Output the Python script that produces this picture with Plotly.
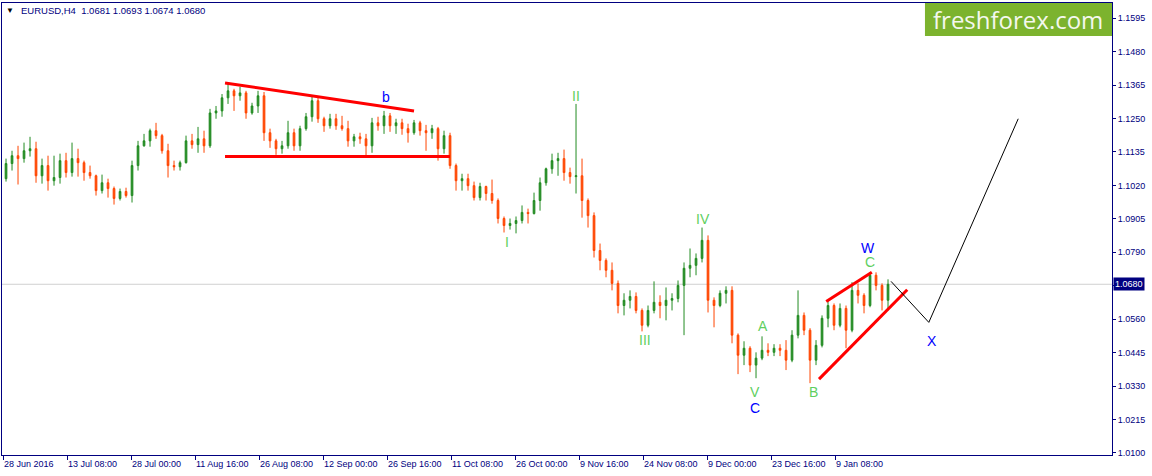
import plotly.graph_objects as go

# EURUSD, H4 chart read back as one candle per trading day
opens = [1.1043, 1.1095, 1.1122, 1.1112, 1.1139, 1.1146, 1.1053, 1.1088, 1.1036, 1.1047,
         1.1105, 1.1064, 1.1112, 1.1098, 1.1064, 1.1053, 1.1002, 1.1029, 1.1009, 1.0975,
         1.0999, 1.0985, 1.1088, 1.1156, 1.1173, 1.1208, 1.1191, 1.1139, 1.1088, 1.1084,
         1.1098, 1.1173, 1.1160, 1.1180, 1.1156, 1.1269, 1.1276, 1.1321, 1.1345, 1.1328,
         1.1338, 1.1269, 1.1293, 1.1328, 1.1201, 1.1173, 1.1146, 1.1156, 1.1201, 1.1156,
         1.1215, 1.1256, 1.1311, 1.1249, 1.1225, 1.1249, 1.1225, 1.1215, 1.1173, 1.1187,
         1.1180, 1.1156, 1.1235, 1.1225, 1.1259, 1.1225, 1.1235, 1.1215, 1.1201, 1.1235,
         1.1208, 1.1201, 1.1215, 1.1146, 1.1191, 1.1088, 1.1036, 1.1043, 1.1019, 1.0978,
         1.1016, 1.0992, 1.0968, 1.0906, 1.0882, 1.0889, 1.0899, 1.0927, 1.0923, 1.0968,
         1.1029, 1.1077, 1.1105, 1.1112, 1.1064, 1.1050, 1.1053, 1.0968, 1.0916, 1.0796,
         1.0762, 1.0728, 1.0683, 1.0607, 1.0625, 1.0638, 1.0590, 1.0539, 1.0590, 1.0618,
         1.0607, 1.0625, 1.0631, 1.0676, 1.0735, 1.0745, 1.0769, 1.0831, 1.0625, 1.0607,
         1.0649, 1.0659, 1.0505, 1.0436, 1.0460, 1.0402, 1.0426, 1.0453, 1.0446, 1.0460,
         1.0453, 1.0419, 1.0505, 1.0573, 1.0522, 1.0419, 1.0470, 1.0563, 1.0607, 1.0539,
         1.0597, 1.0522, 1.0659, 1.0642, 1.0607, 1.0711, 1.0676, 1.0625]
highs = [1.1112, 1.1139, 1.1156, 1.1167, 1.1187, 1.1170, 1.1112, 1.1122, 1.1122, 1.1129,
         1.1132, 1.1167, 1.1146, 1.1105, 1.1088, 1.1057, 1.1057, 1.1043, 1.1016, 1.1009,
         1.1012, 1.1105, 1.1173, 1.1197, 1.1215, 1.1235, 1.1197, 1.1163, 1.1105, 1.1105,
         1.1191, 1.1197, 1.1221, 1.1208, 1.1283, 1.1293, 1.1334, 1.1369, 1.1352, 1.1359,
         1.1345, 1.1304, 1.1345, 1.1341, 1.1215, 1.1180, 1.1173, 1.1242, 1.1215, 1.1225,
         1.1269, 1.1328, 1.1321, 1.1256, 1.1266, 1.1266, 1.1259, 1.1242, 1.1197, 1.1201,
         1.1197, 1.1252, 1.1256, 1.1276, 1.1269, 1.1249, 1.1249, 1.1232, 1.1245, 1.1242,
         1.1228, 1.1228, 1.1221, 1.1208, 1.1201, 1.1095, 1.1060, 1.1060, 1.1033, 1.1029,
         1.1019, 1.1040, 1.0975, 1.0913, 1.0906, 1.0913, 1.0951, 1.0940, 1.0995, 1.1047,
         1.1081, 1.1129, 1.1132, 1.1143, 1.1081, 1.1300, 1.1112, 1.0975, 1.0927, 1.0820,
         1.0769, 1.0755, 1.0693, 1.0649, 1.0659, 1.0652, 1.0597, 1.0607, 1.0690, 1.0642,
         1.0669, 1.0649, 1.0693, 1.0755, 1.0803, 1.0786, 1.0875, 1.0848, 1.0635, 1.0659,
         1.0673, 1.0673, 1.0511, 1.0484, 1.0467, 1.0446, 1.0501, 1.0477, 1.0474, 1.0474,
         1.0488, 1.0522, 1.0659, 1.0583, 1.0529, 1.0488, 1.0573, 1.0625, 1.0614, 1.0614,
         1.0607, 1.0687, 1.0683, 1.0649, 1.0721, 1.0721, 1.0683, 1.0697]
lows = [1.1033, 1.1071, 1.1023, 1.1098, 1.1119, 1.1029, 1.1026, 1.1002, 1.1019, 1.1026,
        1.1047, 1.1050, 1.1050, 1.1036, 1.1043, 1.0985, 1.0992, 1.0978, 1.0954, 1.0968,
        1.0978, 1.0961, 1.1071, 1.1153, 1.1153, 1.1180, 1.1129, 1.1047, 1.1071, 1.1071,
        1.1095, 1.1146, 1.1132, 1.1132, 1.1149, 1.1249, 1.1256, 1.1300, 1.1276, 1.1311,
        1.1249, 1.1263, 1.1269, 1.1173, 1.1149, 1.1125, 1.1129, 1.1146, 1.1139, 1.1139,
        1.1208, 1.1239, 1.1235, 1.1204, 1.1215, 1.1211, 1.1208, 1.1153, 1.1153, 1.1163,
        1.1119, 1.1132, 1.1208, 1.1197, 1.1204, 1.1197, 1.1194, 1.1167, 1.1194, 1.1191,
        1.1139, 1.1180, 1.1105, 1.1129, 1.1077, 1.1002, 1.1002, 1.1002, 1.0968, 1.0968,
        1.0968, 1.0957, 1.0889, 1.0858, 1.0868, 1.0855, 1.0889, 1.0889, 1.0920, 1.0933,
        1.1019, 1.1060, 1.1053, 1.1036, 1.1026, 1.0992, 1.0909, 1.0875, 1.0772, 1.0728,
        1.0704, 1.0659, 1.0580, 1.0573, 1.0597, 1.0580, 1.0518, 1.0532, 1.0580, 1.0563,
        1.0556, 1.0590, 1.0618, 1.0505, 1.0704, 1.0711, 1.0755, 1.0583, 1.0532, 1.0601,
        1.0614, 1.0477, 1.0371, 1.0402, 1.0378, 1.0357, 1.0419, 1.0433, 1.0433, 1.0433,
        1.0385, 1.0412, 1.0494, 1.0505, 1.0340, 1.0402, 1.0463, 1.0532, 1.0522, 1.0532,
        1.0460, 1.0515, 1.0614, 1.0580, 1.0601, 1.0659, 1.0590, 1.0590]
closes = [1.1095, 1.1122, 1.1112, 1.1139, 1.1146, 1.1053, 1.1088, 1.1036, 1.1047, 1.1105,
          1.1064, 1.1112, 1.1098, 1.1064, 1.1053, 1.1002, 1.1029, 1.1009, 1.0975, 1.0999,
          1.0985, 1.1088, 1.1156, 1.1173, 1.1208, 1.1191, 1.1139, 1.1088, 1.1084, 1.1098,
          1.1173, 1.1160, 1.1180, 1.1156, 1.1269, 1.1276, 1.1321, 1.1345, 1.1328, 1.1338,
          1.1269, 1.1293, 1.1328, 1.1201, 1.1173, 1.1146, 1.1156, 1.1201, 1.1156, 1.1215,
          1.1256, 1.1311, 1.1249, 1.1225, 1.1249, 1.1225, 1.1215, 1.1173, 1.1187, 1.1180,
          1.1156, 1.1235, 1.1225, 1.1259, 1.1225, 1.1235, 1.1215, 1.1201, 1.1235, 1.1208,
          1.1201, 1.1215, 1.1146, 1.1191, 1.1088, 1.1036, 1.1043, 1.1019, 1.0978, 1.1016,
          1.0992, 1.0968, 1.0906, 1.0882, 1.0889, 1.0899, 1.0927, 1.0923, 1.0968, 1.1029,
          1.1077, 1.1105, 1.1112, 1.1064, 1.1050, 1.1053, 1.0968, 1.0916, 1.0796, 1.0762,
          1.0728, 1.0683, 1.0607, 1.0625, 1.0638, 1.0590, 1.0539, 1.0590, 1.0618, 1.0607,
          1.0625, 1.0631, 1.0676, 1.0735, 1.0745, 1.0769, 1.0831, 1.0625, 1.0607, 1.0649,
          1.0659, 1.0505, 1.0436, 1.0460, 1.0402, 1.0426, 1.0453, 1.0446, 1.0460, 1.0453,
          1.0419, 1.0505, 1.0573, 1.0522, 1.0419, 1.0470, 1.0563, 1.0607, 1.0539, 1.0597,
          1.0522, 1.0659, 1.0642, 1.0607, 1.0711, 1.0676, 1.0625, 1.0680]

# time labels, one every 64 H4 bars
time_labels = ["28 Jun 2016", "13 Jul 08:00", "28 Jul 00:00", "11 Aug 16:00", "26 Aug 08:00",
               "12 Sep 00:00", "26 Sep 16:00", "11 Oct 08:00", "26 Oct 00:00", "9 Nov 16:00",
               "24 Nov 08:00", "9 Dec 00:00", "23 Dec 16:00", "9 Jan 08:00"]
price_ticks = [1.0100, 1.0215, 1.0330, 1.0445, 1.0560, 1.0675, 1.0790, 1.0905,
               1.1020, 1.1135, 1.1250, 1.1365, 1.1480, 1.1595]

last_price = 1.0680
header = "EURUSD,H4  1.0681 1.0693 1.0674 1.0680"

# wave marks: text, day, price, colour
wave_text = ["b", "II", "I", "IV", "III", "V", "C", "A", "B", "C", "W", "X"]
wave_day = [63.3, 95.0, 83.5, 116.2, 106.5, 124.8, 124.8, 126.2, 134.5, 144.0, 143.7, 154.3]
wave_price = [1.1324, 1.1328, 1.0827, 1.0906, 1.0488, 1.0309, 1.0254, 1.0535, 1.0309, 1.0755, 1.0803, 1.0484]
wave_color = ["blue", "green", "green", "green", "green", "green", "blue", "green", "green", "green", "blue", "blue"]

# drawn lines (day, price) pairs
red_lines = [((36.5, 1.1372), (68.0, 1.1276)),
             ((36.5, 1.1119), (74.0, 1.1119)),
             ((136.7, 1.0621), (144.3, 1.0721)),
             ((135.5, 1.0354), (150.2, 1.0661))]
path_day = [147.5, 153.8, 168.7]
path_price = [1.0690, 1.0549, 1.1249]

NAVY = "#000080"
GREEN_TXT = "#5fcf5f"
FONT = "Liberation Sans, Arial, sans-serif"

days = list(range(len(closes)))
fig = go.Figure()

fig.add_trace(go.Candlestick(x=days, open=opens, high=highs, low=lows, close=closes,
                             increasing=dict(line=dict(color="#228b22", width=1), fillcolor="#228b22"),
                             decreasing=dict(line=dict(color="#ff4500", width=1), fillcolor="#ff4500"),
                             whiskerwidth=0, hoverinfo="skip"))

for (x0, y0), (x1, y1) in red_lines:
    fig.add_trace(go.Scatter(x=[x0, x1], y=[y0, y1], mode="lines",
                             line=dict(color="#ff0000", width=3), hoverinfo="skip"))

fig.add_trace(go.Scatter(x=path_day, y=path_price, mode="lines",
                         line=dict(color="black", width=1), hoverinfo="skip"))

# bid line
fig.add_shape(type="line", xref="paper", x0=0, x1=1, y0=last_price, y1=last_price,
              line=dict(color="#d0d0d0", width=1), layer="below")

for txt, d, p, c in zip(wave_text, wave_day, wave_price, wave_color):
    fig.add_annotation(x=d, y=p, text=txt, showarrow=False,
                       font=dict(family=FONT, size=14, color="#0000ff" if c == "blue" else GREEN_TXT))

# header text
fig.add_annotation(xref="paper", yref="paper", x=0, y=1, xanchor="left", yanchor="top",
                   xshift=2, yshift=-1, text="\u25bc", showarrow=False,
                   font=dict(family=FONT, size=8, color="black"))
fig.add_annotation(xref="paper", yref="paper", x=0, y=1, xanchor="left", yanchor="top",
                   xshift=17, yshift=0, text=header, showarrow=False,
                   font=dict(family=FONT, size=9.5, color=NAVY))

# current price tag (it hides the price label that sits under it)
fig.add_annotation(xref="paper", x=1, y=last_price, xanchor="left", yanchor="middle",
                   text=format(last_price, ".4f"), showarrow=False, bgcolor=NAVY,
                   borderpad=1, xshift=1, font=dict(family=FONT, size=9, color="white"))
price_text = ["" if abs(v - last_price) < 0.001 else format(v, ".4f") for v in price_ticks]

# logo
fig.add_shape(type="rect", xref="paper", yref="paper", x0=0.8315, x1=1, y0=0.927, y1=1,
              fillcolor="#7cb32e", line=dict(width=0))
fig.add_annotation(xref="paper", yref="paper", x=0.9157, y=0.9635, xanchor="center",
                   yanchor="middle", text="freshforex.com", showarrow=False,
                   font=dict(family="Open Sans, sans-serif", size=24, color="#f4f8ee"))

tick_pos = [64 * j / 6 - 0.5 for j in range(len(time_labels))]

fig.update_layout(
    width=1152, height=476,
    margin=dict(l=2, r=40, t=3, b=21),
    paper_bgcolor="white", plot_bgcolor="white",
    showlegend=False,
    boxgap=0.6,
    font=dict(family=FONT, size=9, color=NAVY),
    xaxis=dict(range=[-0.67, 184.33], rangeslider=dict(visible=False), automargin=False,
               tickvals=tick_pos, ticktext=time_labels, ticklabelposition="outside right",
               tickangle=0, ticks="outside", ticklen=4, tickcolor=NAVY, showgrid=False,
               zeroline=False, showline=True, linecolor=NAVY, linewidth=1, mirror=True),
    yaxis=dict(range=[1.0093, 1.1647], side="right", tickvals=price_ticks, ticktext=price_text,
               automargin=False, ticks="outside", ticklen=3, tickcolor=NAVY, showgrid=False,
               zeroline=False, showline=True, linecolor=NAVY, linewidth=1, mirror=True),
)

# drop the default page margin so the figure sits at the window corner
fig.write_html("out.html", config={"displayModeBar": False},
               post_script="document.body.style.margin = '0';")
